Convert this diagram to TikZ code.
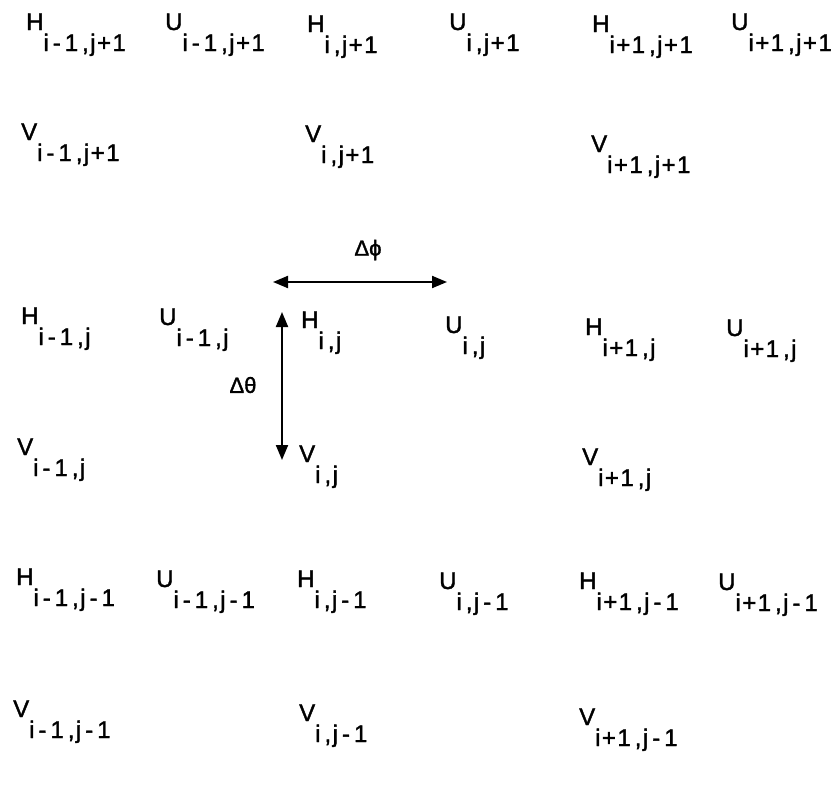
\documentclass[tikz,border=0pt]{standalone}
\usepackage{fontspec}
\setmainfont[FakeBold=1.5]{Liberation Sans}
\newfontfamily\labfont[LetterSpace=6,FakeBold=1.5]{Liberation Sans}
\usetikzlibrary{arrows.meta}
\newcommand\gl[2]{#1\raisebox{-21pt}{\labfont #2}}
\newcommand\mn{\kern4pt-\kern4pt}
\newcommand\cm{\kern4pt,}
\tikzset{
  lab/.style={inner sep=0pt, anchor=base west, font=\fontsize{24}{24}\selectfont},
  dimlab/.style={inner sep=0pt, font=\fontsize{22}{22}\selectfont},
  dimarrow/.style={line width=2pt, {Triangle[length=15pt,width=12pt]}-{Triangle[length=15pt,width=12pt]}}
}
\begin{document}
\begin{tikzpicture}[x=1pt,y=-1pt]
\useasboundingbox (0,0) rectangle (838,790);
% row 1
\node[lab] (h11) at (26,30) {\gl{H}{i\mn1\cm j+1}};
\node[lab] (u11) at (165,30) {\gl{U}{i\mn1\cm j+1}};
\node[lab] (h21) at (307,32) {\gl{H}{i\cm j+1}};
\node[lab] (u21) at (449,30) {\gl{U}{i\cm j+1}};
\node[lab] (h31) at (592,32) {\gl{H}{i+1\cm j+1}};
\node[lab] (u31) at (731,30) {\gl{U}{i+1\cm j+1}};
% row 2
\node[lab] (v12) at (21,140) {\gl{V}{i\mn1\cm j+1}};
\node[lab] (v22) at (305,142) {\gl{V}{i\cm j+1}};
\node[lab] (v32) at (591,152) {\gl{V}{i+1\cm j+1}};
% row 3
\node[lab] (h13) at (21,324) {\gl{H}{i\mn1\cm j}};
\node[lab] (u13) at (159,325) {\gl{U}{i\mn1\cm j}};
\node[lab] (h23) at (301,328) {\gl{H}{i\cm j}};
\node[lab] (u23) at (445,333) {\gl{U}{i\cm j}};
\node[lab] (h33) at (585,335) {\gl{H}{i+1\cm j}};
\node[lab] (u33) at (726,336) {\gl{U}{i+1\cm j}};
% row 4
\node[lab] (v14) at (17,455) {\gl{V}{i\mn1\cm j}};
\node[lab] (v24) at (299,462) {\gl{V}{i\cm j}};
\node[lab] (v34) at (582,465) {\gl{V}{i+1\cm j}};
% row 5
\node[lab] (h15) at (16,585) {\gl{H}{i\mn1\cm j\mn1}};
\node[lab] (u15) at (156,587) {\gl{U}{i\mn1\cm j\mn1}};
\node[lab] (h25) at (297,587) {\gl{H}{i\cm j\mn1}};
\node[lab] (u25) at (439,589) {\gl{U}{i\cm j\mn1}};
\node[lab] (h35) at (579,589) {\gl{H}{i+1\cm j\mn1}};
\node[lab] (u35) at (718,590) {\gl{U}{i+1\cm j\mn1}};
% row 6
\node[lab] (v16) at (13,717) {\gl{V}{i\mn1\cm j\mn1}};
\node[lab] (v26) at (299,721) {\gl{V}{i\cm j\mn1}};
\node[lab] (v36) at (579,725) {\gl{V}{i+1\cm j\mn1}};
% dimension arrows
\coordinate (pl) at (273,282);
\coordinate (pr) at (447,282);
\coordinate (tt) at (282,312);
\coordinate (tb) at (282,460);
\draw[dimarrow] (pl) -- (pr);
\draw[dimarrow] (tt) -- (tb);
\node[dimlab] (dphi) at (368,250) {Δϕ};
\node[dimlab] (dth) at (243,385) {Δθ};
\end{tikzpicture}
\end{document}
